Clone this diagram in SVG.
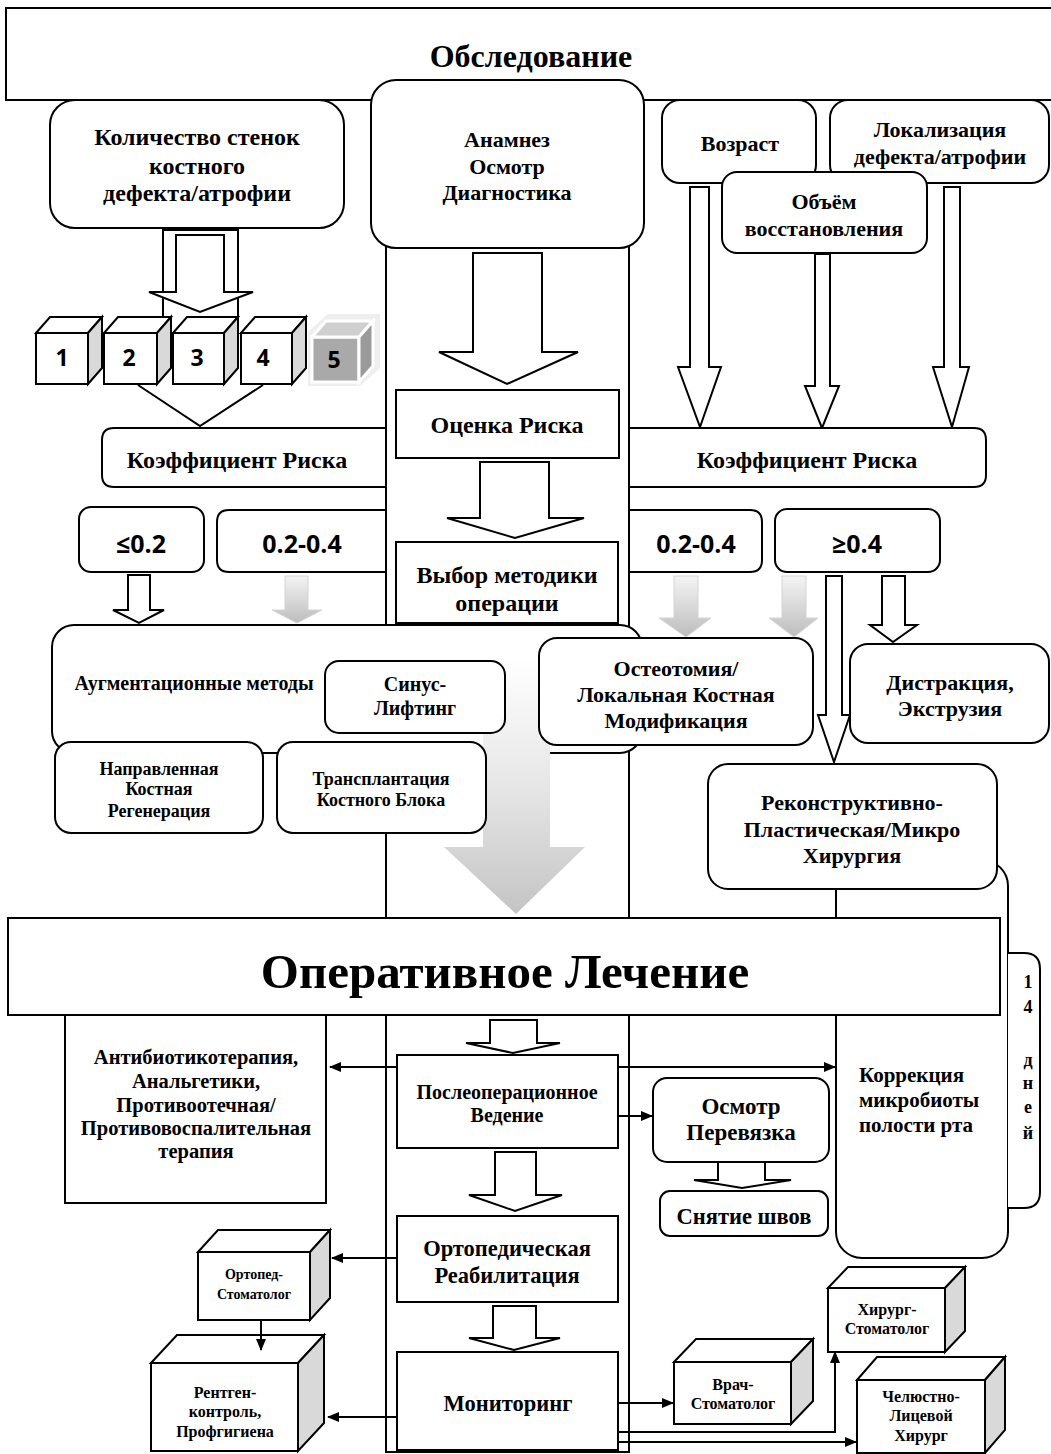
<svg xmlns="http://www.w3.org/2000/svg" width="1051" height="1454" viewBox="0 0 1051 1454">
<style>
.b{fill:#fff;stroke:#000;stroke-width:2}
.ln{fill:none;stroke:#000;stroke-width:2}
.ar{fill:#fff;stroke:#000;stroke-width:2;stroke-linejoin:miter}
.ga{fill:url(#gs);stroke:#d4d4d4;stroke-width:1}
.sd{fill:#d9d9d9;stroke:#000;stroke-width:2}
.t{font-family:"Liberation Serif","Times New Roman",serif;font-weight:bold;fill:#000;text-anchor:middle}
.n{font-family:"Open Sans","Liberation Sans",sans-serif;font-weight:bold;fill:#000;text-anchor:middle}
.c{fill:none;stroke:#000;stroke-width:2;marker-end:url(#ah)}
</style>
<defs>
<marker id="ah" markerUnits="userSpaceOnUse" markerWidth="12" markerHeight="10" refX="11" refY="5" orient="auto"><path d="M0,0 L12,5 L0,10 z" fill="#000"/></marker>
<linearGradient id="gs" x1="0" y1="0" x2="0" y2="1"><stop offset="0" stop-color="#f4f4f4"/><stop offset="1" stop-color="#bdbdbd"/></linearGradient>
<linearGradient id="gb" x1="0" y1="0" x2="0" y2="1"><stop offset="0" stop-color="#ffffff"/><stop offset="0.5" stop-color="#e6e6e6"/><stop offset="1" stop-color="#c4c4c4"/></linearGradient>
</defs>

<!-- center column -->
<rect id="column" class="b" x="386" y="240" width="243" height="1212"/>

<g id="obsledovanie"><rect class="b" x="6" y="8" width="1055" height="92"/><text class="t" x="531" y="67" font-size="32">Обследование</text></g>
<g id="kolichestvo"><rect class="b" x="50" y="100" width="294" height="128" rx="25"/><text class="t" font-size="24"><tspan x="197" y="145">Количество стенок</tspan><tspan x="197" y="174">костного</tspan><tspan x="197" y="201">дефекта/атрофии</tspan></text></g>
<g id="vozrast"><rect class="b" x="662" y="100" width="154" height="83" rx="18"/><text class="t" x="740" y="151" font-size="22">Возраст</text></g>
<g id="lokalizaciya"><rect class="b" x="830" y="100" width="219" height="83" rx="18"/><text class="t" font-size="22"><tspan x="940" y="137">Локализация</tspan><tspan x="940" y="164">дефекта/атрофии</tspan></text></g>
<g id="obem"><rect class="b" x="722" y="172" width="205" height="81" rx="15"/><text class="t" font-size="22"><tspan x="824" y="209">Объём</tspan><tspan x="824" y="236">восстановления</tspan></text></g>
<g id="anamnez"><rect class="b" x="371" y="80" width="273" height="168" rx="25"/><text class="t" font-size="22"><tspan x="507" y="147">Анамнез</tspan><tspan x="507" y="174">Осмотр</tspan><tspan x="507" y="200">Диагностика</tspan></text></g>

<g id="connectors-top">
<path class="ln" d="M163 318 V230 H238 V318"/>
<path class="ar" d="M176 235 H224 V292 H253 L200 312 L149 292 H176 Z"/>
<path class="ar" d="M473 253 H542 V352 H578 L507 384 L439 352 H473 Z"/>
<path class="ar" d="M690 187 H709 V367 H721 L700 427 L678 367 H690 Z"/>
<path class="ar" d="M815 254 H830 V386 H839 L822 428 L805 386 H815 Z"/>
<path class="ar" d="M944 187 H960 V367 H969 L952 427 L933 367 H944 Z"/>
<polyline class="ln" points="138,385 200,426 263,385"/>
<path class="ar" d="M480 462 H549 V518 H584 L515 538 L447 518 H480 Z"/>
</g>

<g id="cubes">
<g id="cube1"><rect class="b" x="36" y="333" width="52" height="51"/><polygon class="b" points="36,333 50,317 102,317 88,333"/><polygon class="sd" points="88,333 102,317 102,368 88,384"/><text class="n" x="62" y="366" font-size="23">1</text></g>
<g id="cube2"><rect class="b" x="104" y="333" width="53" height="51"/><polygon class="b" points="104,333 118,317 171,317 157,333"/><polygon class="sd" points="157,333 171,317 171,368 157,384"/><text class="n" x="129" y="366" font-size="23">2</text></g>
<g id="cube3"><rect class="b" x="173" y="333" width="51" height="51"/><polygon class="b" points="173,333 187,317 238,317 224,333"/><polygon class="sd" points="224,333 238,317 238,368 224,384"/><text class="n" x="197" y="366" font-size="23">3</text></g>
<g id="cube4"><rect class="b" x="241" y="333" width="51" height="51"/><polygon class="b" points="241,333 255,317 306,317 292,333"/><polygon class="sd" points="292,333 306,317 306,368 292,384"/><text class="n" x="263" y="366" font-size="23">4</text></g>
<g id="cube5"><polygon points="308,386 360,386 380,368 380,314 328,314 308,332" fill="#eeeeee"/><rect x="312" y="337" width="47" height="45" fill="#a9a9a9" stroke="#fff" stroke-width="3"/><polygon points="312,337 326,321 373,321 359,337" fill="#cfcfcf" stroke="#fff" stroke-width="3"/><polygon points="359,337 373,321 373,366 359,382" fill="#9a9a9a" stroke="#fff" stroke-width="3"/><text class="n" x="334" y="368" font-size="23">5</text></g>
</g>

<g id="koef-left"><path class="b" d="M385 428 H114 Q102 428 102 440 V475 Q102 487 114 487 H385"/><text class="t" x="237" y="468" font-size="24">Коэффициент Риска</text></g>
<g id="ocenka"><rect class="b" x="396" y="390" width="223" height="68"/><text class="t" x="507" y="433" font-size="24">Оценка Риска</text></g>
<g id="koef-right"><path class="b" d="M630 428 H974 Q986 428 986 440 V475 Q986 487 974 487 H630"/><text class="t" x="807" y="468" font-size="24">Коэффициент Риска</text></g>

<g id="le02"><rect class="b" x="79" y="507" width="125" height="65" rx="12"/><text class="n" x="141" y="553" font-size="25">≤0.2</text></g>
<g id="r0204-left"><path class="b" d="M385 510 H229 Q217 510 217 522 V560 Q217 572 229 572 H385"/><text class="n" x="302" y="553" font-size="25">0.2-0.4</text></g>
<g id="r0204-right"><path class="b" d="M630 510 H750 Q762 510 762 522 V560 Q762 572 750 572 H630"/><text class="n" x="696" y="553" font-size="25">0.2-0.4</text></g>
<g id="ge04"><rect class="b" x="775" y="509" width="165" height="63" rx="12"/><text class="n" x="857" y="553" font-size="25">≥0.4</text></g>
<g id="vybor"><rect class="b" x="396" y="542" width="222" height="81"/><text class="t" font-size="24"><tspan x="507" y="583">Выбор методики</tspan><tspan x="507" y="611">операции</tspan></text></g>

<g id="connectors-mid">
<path class="ar" d="M128 575 H150 V610 H164 L139 623 L113 610 H128 Z"/>
<path class="ga" d="M285 576 H308 V610 H322 L297 623 L272 610 H285 Z"/>
<path class="ga" d="M674 576 H698 V618 H711 L686 637 L659 618 H674 Z"/>
<path class="ga" d="M782 576 H806 V618 H818 L794 637 L769 618 H782 Z"/>
<path class="ar" d="M826 576 H842 V715 H850 L834 762 L818 715 H826 Z"/>
<path class="ar" d="M882 576 H905 V625 H917 L893 642 L870 625 H882 Z"/>
</g>

<g id="korrekciya"><rect class="b" x="836" y="860" width="172" height="398" rx="26"/><text class="t" font-size="21" style="text-anchor:start"><tspan x="859" y="1082">Коррекция</tspan><tspan x="859" y="1107">микробиоты</tspan><tspan x="859" y="1132">полости рта</tspan></text></g>
<g id="days14"><path class="b" d="M1008 953 H1024 Q1040 953 1040 969 V1192 Q1040 1208 1024 1208 H1008"/><text class="t" font-size="18"><tspan x="1028" y="988">1</tspan><tspan x="1028" y="1013">4</tspan><tspan x="1028" y="1066">д</tspan><tspan x="1028" y="1089">н</tspan><tspan x="1028" y="1113">е</tspan><tspan x="1028" y="1139">й</tspan></text></g>

<g id="augm"><rect class="b" x="52" y="625" width="590" height="128" rx="22"/><text class="t" x="194" y="690" font-size="20">Аугментационные методы</text></g>
<path id="big-arrow" d="M483 658 H550 V847 H585 L516 914 L444 847 H483 Z" fill="url(#gb)"/>
<g id="sinus"><rect class="b" x="325" y="661" width="180" height="72" rx="14"/><text class="t" font-size="20"><tspan x="415" y="691">Синус-</tspan><tspan x="415" y="715">Лифтинг</tspan></text></g>
<g id="napravlennaya"><rect class="b" x="55" y="742" width="208" height="91" rx="16"/><text class="t" font-size="18"><tspan x="159" y="775">Направленная</tspan><tspan x="159" y="795">Костная</tspan><tspan x="159" y="817">Регенерация</tspan></text></g>
<g id="transplant"><rect class="b" x="277" y="742" width="209" height="91" rx="16"/><text class="t" font-size="18"><tspan x="381" y="785">Трансплантация</tspan><tspan x="381" y="806">Костного Блока</tspan></text></g>
<g id="osteotomiya"><rect class="b" x="539" y="638" width="274" height="107" rx="18"/><text class="t" font-size="22"><tspan x="676" y="676">Остеотомия/</tspan><tspan x="676" y="702">Локальная Костная</tspan><tspan x="676" y="728">Модификация</tspan></text></g>
<g id="distrakciya"><rect class="b" x="850" y="644" width="199" height="99" rx="18"/><text class="t" font-size="22"><tspan x="950" y="690">Дистракция,</tspan><tspan x="950" y="716">Экструзия</tspan></text></g>
<g id="rekonstr"><rect class="b" x="708" y="764" width="289" height="125" rx="20"/><text class="t" font-size="22"><tspan x="852" y="810">Реконструктивно-</tspan><tspan x="852" y="837">Пластическая/Микро</tspan><tspan x="852" y="863">Хирургия</tspan></text></g>

<g id="antibiotik"><rect class="b" x="65" y="1000" width="261" height="203"/><text class="t" font-size="20.5"><tspan x="196" y="1064">Антибиотикотерапия,</tspan><tspan x="196" y="1088">Анальгетики,</tspan><tspan x="196" y="1112">Противоотечная/</tspan><tspan x="196" y="1135">Противовоспалительная</tspan><tspan x="196" y="1158">терапия</tspan></text></g>
<g id="operativnoe"><rect class="b" x="8" y="918" width="992" height="97"/><text class="t" x="505" y="988" font-size="49">Оперативное Лечение</text></g>

<g id="posleop"><rect class="b" x="397" y="1055" width="221" height="93"/><text class="t" font-size="20"><tspan x="507" y="1099">Послеоперационное</tspan><tspan x="507" y="1122">Ведение</tspan></text></g>
<g id="osmotr"><rect class="b" x="653" y="1078" width="176" height="84" rx="14"/><text class="t" font-size="23"><tspan x="741" y="1114">Осмотр</tspan><tspan x="741" y="1140">Перевязка</tspan></text></g>
<g id="snyatie"><rect class="b" x="660" y="1191" width="168" height="45" rx="10"/><text class="t" x="744" y="1224" font-size="22.5">Снятие швов</text></g>
<g id="ortoped-reab"><rect class="b" x="397" y="1216" width="221" height="86"/><text class="t" font-size="22.5"><tspan x="507" y="1256">Ортопедическая</tspan><tspan x="507" y="1283">Реабилитация</tspan></text></g>
<g id="monitoring"><rect class="b" x="397" y="1352" width="221" height="98"/><text class="t" x="508" y="1411" font-size="22.5">Мониторинг</text></g>

<g id="ortoped-stom"><rect class="b" x="198" y="1252" width="112" height="68"/><polygon class="b" points="198,1252 218,1230 330,1230 310,1252"/><polygon class="sd" points="310,1252 330,1230 330,1298 310,1320"/><text class="t" font-size="14"><tspan x="254" y="1279">Ортопед-</tspan><tspan x="254" y="1299">Стоматолог</tspan></text></g>
<g id="rentgen"><rect class="b" x="151" y="1363" width="147" height="88"/><polygon class="b" points="151,1363 177,1335 324,1335 298,1363"/><polygon class="sd" points="298,1363 324,1335 324,1423 298,1451"/><text class="t" font-size="16"><tspan x="225" y="1398">Рентген-</tspan><tspan x="225" y="1417">контроль,</tspan><tspan x="225" y="1437">Профгигиена</tspan></text></g>
<g id="vrach"><rect class="b" x="674" y="1362" width="117" height="62"/><polygon class="b" points="674,1362 696,1339 813,1339 791,1362"/><polygon class="sd" points="791,1362 813,1339 813,1401 791,1424"/><text class="t" font-size="16"><tspan x="733" y="1390">Врач-</tspan><tspan x="733" y="1409">Стоматолог</tspan></text></g>
<g id="hirurg"><rect class="b" x="828" y="1288" width="117" height="64"/><polygon class="b" points="828,1288 848,1267 965,1267 945,1288"/><polygon class="sd" points="945,1288 965,1267 965,1331 945,1352"/><text class="t" font-size="16"><tspan x="887" y="1315">Хирург-</tspan><tspan x="887" y="1334">Стоматолог</tspan></text></g>
<g id="chelyustno"><rect class="b" x="857" y="1380" width="128" height="73"/><polygon class="b" points="857,1380 877,1357 1005,1357 985,1380"/><polygon class="sd" points="985,1380 1005,1357 1005,1430 985,1453"/><text class="t" font-size="16"><tspan x="921" y="1402">Челюстно-</tspan><tspan x="921" y="1421">Лицевой</tspan><tspan x="921" y="1441">Хирург</tspan></text></g>

<g id="connectors-bottom">
<path class="ar" d="M490 1020 H537 V1043 H560 L513 1053 L466 1043 H490 Z"/>
<path class="ar" d="M495 1152 H536 V1195 H562 L515 1211 L469 1195 H495 Z"/>
<path class="ar" d="M493 1306 H536 V1338 H560 L514 1350 L469 1338 H493 Z"/>
<path class="ar" d="M718 1162 H765 V1180 H791 L742 1188 L694 1180 H718 Z"/>
<line class="c" x1="397" y1="1067" x2="330" y2="1067"/>
<line class="c" x1="618" y1="1067" x2="835" y2="1067"/>
<line class="c" x1="618" y1="1116" x2="652" y2="1116"/>
<line class="c" x1="397" y1="1258" x2="332" y2="1258"/>
<line class="c" x1="261" y1="1320" x2="261" y2="1350"/>
<line class="c" x1="397" y1="1417" x2="328" y2="1417"/>
<line class="c" x1="618" y1="1403" x2="673" y2="1403"/>
<path class="c" d="M618 1432 H835 V1352"/>
<line class="c" x1="618" y1="1442" x2="856" y2="1442"/>
</g>
</svg>
